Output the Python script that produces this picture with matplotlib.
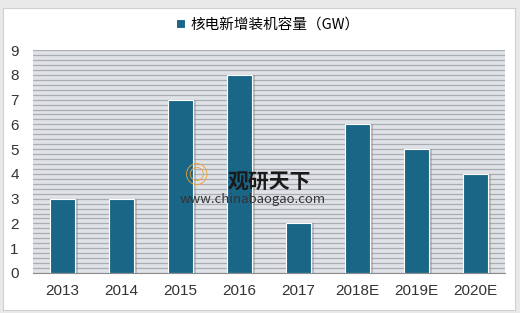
import matplotlib.pyplot as plt
import numpy as np

plt.rcParams['font.family'] = ['Noto Sans CJK SC', 'DejaVu Sans']

years = ["2013", "2014", "2015", "2016", "2017", "2018E", "2019E", "2020E"]
capacity = [3, 3, 7, 8, 2, 6, 5, 4]
series_name = "核电新增装机容量（GW）"

fig = plt.figure(figsize=(5.2, 3.13), dpi=100)
fig.patch.set_facecolor("#e9e9e9")

# white chart area
bg = fig.add_axes([0.006, 0.01, 0.985, 0.965])
bg.set_facecolor("white")
bg.set_xticks([])
bg.set_yticks([])
for s in bg.spines.values():
    s.set_color("#d0d0d0")

ax = fig.add_axes([0.063, 0.128, 0.908, 0.712])
ax.set_facecolor("#dfe3e8")
x = np.arange(len(years))

# fine horizontal lines
for v in np.arange(0, 9.01, 0.2):
    ax.axhline(v, color="#a9adb1", lw=0.9, zorder=1)

# shadows
ax.bar(x + 0.06, capacity, width=0.42, color="#8a8a8a", alpha=0.45, zorder=2)
ax.bar(x, capacity, width=0.42, color="#1a6687", edgecolor="white", lw=0.8,
       zorder=3, label=series_name)

ax.set_xlim(-0.5, len(years) - 0.5)
ax.set_ylim(0, 9)
ax.set_yticks(range(0, 10))
ax.set_xticks(x)
ax.set_xticklabels(years)
ax.tick_params(length=0, labelsize=11, colors="#333333")
ax.tick_params(axis="x", pad=8)
ax.tick_params(axis="y", pad=10)
for lab in ax.get_xticklabels() + ax.get_yticklabels():
    lab.set_family("Liberation Sans")
for s in ["top", "right", "left"]:
    ax.spines[s].set_visible(False)
ax.spines["bottom"].set_color("#8c8c8c")

leg = fig.legend(loc="upper center", bbox_to_anchor=(0.515, 0.985), frameon=True,
                 fontsize=10.5, handlelength=0.6, handleheight=0.6, handletextpad=0.4,
                 fancybox=False, borderpad=0.4)
leg.get_frame().set_edgecolor("white")
leg.get_frame().set_facecolor("white")

# watermark
fig.text(0.437, 0.418, "观研天下", fontsize=15, fontweight="bold", color="#1a1a1a",
         va="center", zorder=10)
fig.text(0.345, 0.362, "www.chinabaogao.com", fontsize=9.5, color="#333333",
         va="center", zorder=10)
fig.text(0.378, 0.435, "◎", fontsize=17, color="#f0a030", ha="center", va="center",
         zorder=10)

fig.savefig("out.png", dpi=100, facecolor=fig.get_facecolor())
